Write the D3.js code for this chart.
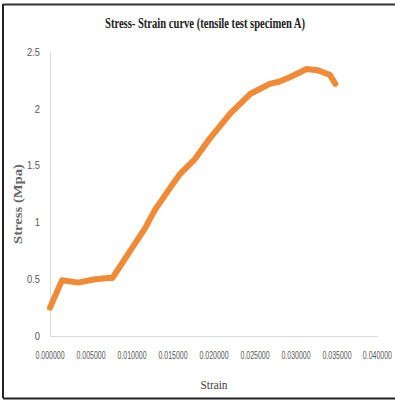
<!DOCTYPE html>
<html><head><meta charset="utf-8">
<script src="https://cdn.jsdelivr.net/npm/d3@7/dist/d3.min.js"></script>
<style>body{margin:0;background:#fff}svg{display:block}</style>
</head><body>
<script>
const strain = [0, 0.00146, 0.0034, 0.0055, 0.0071, 0.0076, 0.0116, 0.0128, 0.0149, 0.0159, 0.0177, 0.0195, 0.0220, 0.0244, 0.0268, 0.0280, 0.0293, 0.0313, 0.0326, 0.0341, 0.0348];
const stress = [0.25, 0.49, 0.47, 0.50, 0.51, 0.51, 0.95, 1.11, 1.33, 1.43, 1.56, 1.74, 1.96, 2.13, 2.22, 2.24, 2.28, 2.35, 2.34, 2.30, 2.22];
const xTicks = [0, 0.005, 0.01, 0.015, 0.02, 0.025, 0.03, 0.035, 0.04];
const yTicks = [0, 0.5, 1, 1.5, 2, 2.5];
const titleText = "Stress- Strain curve (tensile test specimen A)";
const xTitle = "Strain";
const yTitle = "Stress (Mpa)";

const W = 395, H = 401;
const svg = d3.select("body").append("svg").attr("width", W).attr("height", H);

// frame
svg.append("line").attr("x1",3).attr("x2",3).attr("y1",4).attr("y2",398).attr("stroke","#222").attr("stroke-width",2);
svg.append("line").attr("x1",3).attr("x2",395).attr("y1",4.5).attr("y2",4.5).attr("stroke","#333").attr("stroke-width",2);
svg.append("line").attr("x1",3).attr("x2",395).attr("y1",398.5).attr("y2",398.5).attr("stroke","#222").attr("stroke-width",2);

const x = d3.scaleLinear().domain([0, 0.04]).range([50, 378]);
const y = d3.scaleLinear().domain([0, 2.5]).range([336, 52]);

// axes lines
svg.append("line").attr("x1",50.5).attr("x2",50.5).attr("y1",y(2.5)).attr("y2",y(0)).attr("stroke","#d9d9d9");
svg.append("line").attr("x1",50).attr("x2",378).attr("y1",y(0)+0.5).attr("y2",y(0)+0.5).attr("stroke","#d9d9d9");

// y tick labels
svg.append("g").selectAll("text").data(yTicks).join("text")
  .attr("x", 40).attr("y", d => y(d)).attr("dy","0.35em")
  .attr("text-anchor","end")
  .attr("font-family","Liberation Sans, sans-serif")
  .attr("font-size", 11).attr("fill","#595959")
  .attr("transform", d => `translate(40,${y(d)}) scale(0.85,1) translate(-40,${-y(d)})`)
  .text(d => d);

// x tick labels (horizontally condensed)
const last = xTicks[xTicks.length - 1];
svg.append("g").selectAll("text").data(xTicks).join("text")
  .attr("transform", d => `translate(${d === last ? x(d) + 14 : x(d)},355) scale(0.7,1)`)
  .attr("dy","0.35em")
  .attr("text-anchor", d => d === last ? "end" : "middle")
  .attr("font-family","Liberation Sans, sans-serif")
  .attr("font-size", 10).attr("fill","#595959")
  .text(d => d.toFixed(6));

// title
svg.append("text").attr("x", 205).attr("y", 28).attr("text-anchor","middle")
  .attr("font-family","Liberation Serif, serif").attr("font-weight","bold")
  .attr("font-size", 14).attr("fill","#222")
  .attr("textLength", 200).attr("lengthAdjust","spacingAndGlyphs")
  .text(titleText);

// axis titles
svg.append("text").attr("x", 214).attr("y", 389).attr("text-anchor","middle")
  .attr("font-family","Liberation Serif, serif")
  .attr("font-size", 13).attr("fill","#404040")
  .attr("textLength", 27).attr("lengthAdjust","spacingAndGlyphs")
  .text(xTitle);

svg.append("text").attr("transform","translate(22,204) rotate(-90)").attr("text-anchor","middle")
  .attr("font-family","Liberation Serif, serif").attr("font-weight","bold")
  .attr("font-size", 12).attr("fill","#666")
  .attr("textLength", 80).attr("lengthAdjust","spacingAndGlyphs")
  .text(yTitle);

// curve
const pts = strain.map((s,i) => [s, stress[i]]);
const line = d3.line().x(d => x(d[0])).y(d => y(d[1]));
svg.append("path").datum(pts).attr("d", line)
  .attr("fill","none").attr("stroke","#F08A36").attr("stroke-width",6)
  .attr("stroke-linejoin","round").attr("stroke-linecap","round");
</script>
</body></html>
